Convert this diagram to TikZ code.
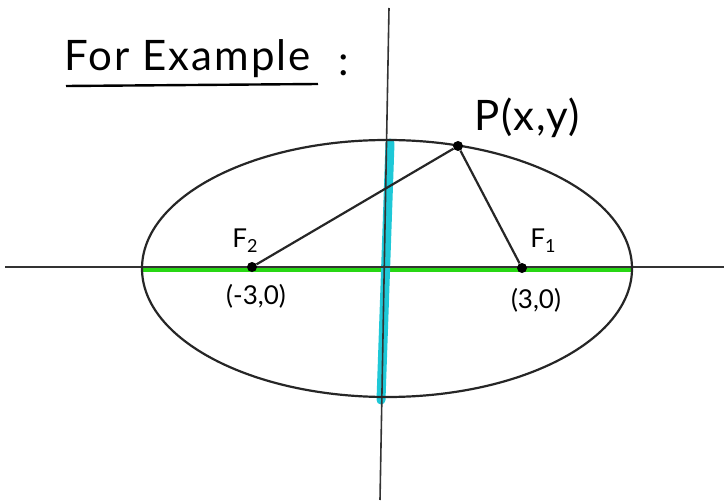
\documentclass[tikz,border=0pt]{standalone}
\usepackage{fontspec}
\setmainfont{Lato}
\definecolor{hlgreen}{RGB}{40,215,20}
\definecolor{hlcyan}{RGB}{30,200,215}
\begin{document}
\begin{tikzpicture}[x=1pt,y=-1pt,
  axis/.style={line width=1.6pt, black!80},
  curve/.style={line width=2.2pt, black!85},
  seg/.style={line width=2.2pt, black!85},
  dot/.style={circle, fill=black, inner sep=0pt, minimum size=10pt},
  lbl/.style={inner sep=0pt, font=\fontsize{26}{28}\selectfont}]
\useasboundingbox (0,0) rectangle (724,503);
% highlights
\draw[line width=6pt, hlgreen] (142,269) -- (632,269);
\draw[line width=9pt, hlcyan, line cap=round] (390,143) -- (381,400);
% axes
\coordinate (xl) at (5,267);
\coordinate (xr) at (724,267);
\coordinate (yt) at (389,8);
\coordinate (yb) at (380,500);
\draw[axis] (xl) -- (xr);
\draw[axis] (yt) -- (yb);
% ellipse
\draw[curve] (387,268.5) ellipse [x radius=245, y radius=128.5];
% points
\node[dot] (P) at (458,146) {};
\node[dot] (F2) at (252,267) {};
\node[dot] (F1) at (522,268) {};
\draw[seg] (P) -- (F2);
\draw[seg] (P) -- (F1);
% labels
\node[lbl, anchor=south west, font=\fontsize{42}{46}\selectfont\addfontfeature{LetterSpace=5}] (title) at (64,78) {For Example};
\node[lbl, anchor=south west, font=\fontsize{42}{46}\selectfont] (colon) at (338,76) {:};
\draw[line width=2.4pt] (66,86) -- (318,84);
\node[lbl, font=\fontsize{42}{46}\selectfont\addfontfeature{LetterSpace=4}] (Plbl) at (527,118) {P(x,y)};
\node[lbl] (F2lbl) at (245,241) {F\raisebox{-5pt}{\fontsize{18}{20}\selectfont 2}};
\node[lbl] (F1lbl) at (543,241) {F\raisebox{-5pt}{\fontsize{18}{20}\selectfont 1}};
\node[lbl] (F2c) at (256,296) {(-3,0)};
\node[lbl] (F1c) at (536,300) {(3,0)};
\end{tikzpicture}
\end{document}
